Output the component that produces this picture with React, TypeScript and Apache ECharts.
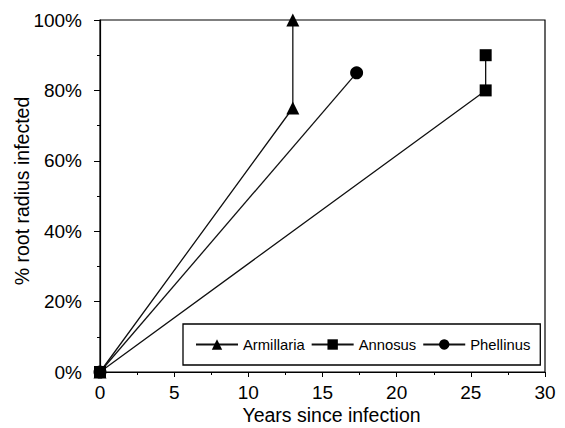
import React, { useEffect, useRef } from "react";
import * as echarts from "echarts";

const seriesNames = ["Armillaria", "Annosus", "Phellinus"];
const armillaria: [number, number][] = [[0, 0], [13, 75], [13, 100]];
const annosus: [number, number][] = [[0, 0], [26, 80], [26, 90]];
const phellinus: [number, number][] = [[0, 0], [17.3, 85]];
const xTicks = [0, 5, 10, 15, 20, 25, 30];
const yTicks = [0, 20, 40, 60, 80, 100];

const FONT = "Liberation Sans, Arial, Helvetica, sans-serif";

export default function App() {
  const ref = useRef<HTMLDivElement>(null);
  useEffect(() => {
    if (!ref.current) return;
    const chart = echarts.init(ref.current, null, { renderer: "svg" });
    const mk = (name: string, data: [number, number][], symbol: string, size: number, z: number) => ({
      name,
      type: "line",
      data,
      symbol,
      symbolSize: size,
      z,
      lineStyle: { color: "#111", width: 1.3 },
      itemStyle: { color: "#000" },
      emphasis: { disabled: true },
    });
    chart.setOption({
      animation: false,
      backgroundColor: "#fff",
      textStyle: { fontFamily: FONT },
      grid: {
        left: 100,
        right: 20,
        top: 20,
        bottom: 56,
        containLabel: false,
        outerBoundsMode: "none",
        show: true,
        borderColor: "#000",
        borderWidth: 1.2,
      },
      legend: {
        data: seriesNames,
        left: 183,
        top: 324,
        padding: [13, 10, 13, 12],
        borderColor: "#000",
        borderWidth: 1.3,
        backgroundColor: "#fff",
        itemWidth: 42,
        itemHeight: 13,
        itemGap: 6,
        textStyle: { fontFamily: FONT, fontSize: 14.8, color: "#000" },
      },
      xAxis: {
        type: "value",
        min: xTicks[0],
        max: xTicks[xTicks.length - 1],
        interval: 5,
        name: "Years since infection",
        nameLocation: "middle",
        nameGap: 33,
        nameMoveOverlap: false,
        nameTextStyle: {
          fontFamily: FONT,
          fontSize: 19.5,
          color: "#000",
          verticalAlign: "top",
          padding: [0, 0, 0, 18],
        },
        axisLine: { show: true, lineStyle: { color: "#000", width: 1.2 } },
        axisTick: { show: true, inside: false, length: 5, lineStyle: { color: "#000" } },
        minorTick: { show: true, splitNumber: 2, length: 3, lineStyle: { color: "#000" } },
        axisLabel: { fontFamily: FONT, fontSize: 19, color: "#000", margin: 11 },
        splitLine: { show: false },
      },
      yAxis: {
        type: "value",
        min: yTicks[0],
        max: yTicks[yTicks.length - 1],
        interval: 20,
        name: "% root radius infected",
        nameLocation: "middle",
        nameGap: 68,
        nameMoveOverlap: false,
        nameRotate: 90,
        nameTextStyle: { fontFamily: FONT, fontSize: 19.5, color: "#000", padding: [0, 0, 0, 10] },
        axisLine: { show: true, lineStyle: { color: "#000", width: 1.2 } },
        axisTick: { show: true, inside: false, length: 6, lineStyle: { color: "#000" } },
        minorTick: { show: true, splitNumber: 2, length: 3, lineStyle: { color: "#000" } },
        axisLabel: { fontFamily: FONT, fontSize: 19, color: "#000", margin: 18, formatter: "{value}%" },
        splitLine: { show: false },
      },
      series: [
        mk(seriesNames[0], armillaria, "triangle", 13, 2),
        mk(seriesNames[1], annosus, "rect", 12, 4),
        mk(seriesNames[2], phellinus, "circle", 13, 3),
      ],
    });
    return () => chart.dispose();
  }, []);
  return (
    <div
      ref={ref}
      style={{ position: "fixed", left: 0, top: 0, width: 565, height: 428, background: "#fff" }}
    />
  );
}
